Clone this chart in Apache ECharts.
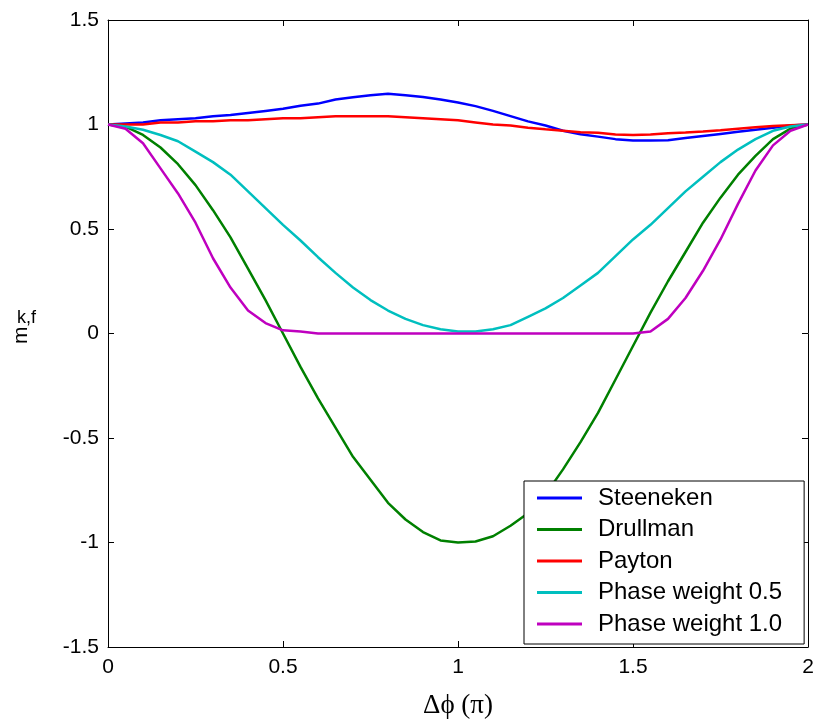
<!DOCTYPE html>
<html>
<head>
    <meta charset="utf-8" />
    <title>Modulation transfer vs phase difference</title>
    <script src="https://cdn.jsdelivr.net/npm/echarts@6/dist/echarts.min.js"></script>
    <style>
        html, body { margin: 0; padding: 0; background: #fff; }
        #main { width: 817px; height: 724px; }
    </style>
</head>
<body>
    <div id="main"></div>
    <script>
        // phase difference, in units of pi
        var dphi = [0, 0.05, 0.1, 0.15, 0.2, 0.25, 0.3, 0.35, 0.4, 0.45, 0.5, 0.55, 0.6, 0.65, 0.7, 0.75, 0.8, 0.85, 0.9, 0.95,
            1, 1.05, 1.1, 1.15, 1.2, 1.25, 1.3, 1.35, 1.4, 1.45, 1.5, 1.55, 1.6, 1.65, 1.7, 1.75, 1.8, 1.85, 1.9, 1.95, 2];

        var steeneken = [1, 1.005, 1.01, 1.02, 1.025, 1.03, 1.04, 1.045, 1.055, 1.065, 1.075, 1.09, 1.1, 1.12, 1.13, 1.14, 1.147, 1.14, 1.132, 1.12,
            1.105, 1.088, 1.065, 1.04, 1.015, 0.995, 0.97, 0.953, 0.942, 0.93, 0.923, 0.923, 0.925, 0.935, 0.945, 0.955, 0.965, 0.975, 0.985, 0.995, 1];

        var drullman = [1, 0.99, 0.95, 0.89, 0.81, 0.71, 0.59, 0.46, 0.31, 0.16, 0.0, -0.16, -0.31, -0.45, -0.59, -0.7, -0.81, -0.89, -0.95, -0.99,
            -1.0, -0.995, -0.97, -0.92, -0.86, -0.77, -0.65, -0.52, -0.38, -0.22, -0.06, 0.1, 0.25, 0.39, 0.53, 0.65, 0.76, 0.85, 0.93, 0.98, 1];

        var payton = [1, 1, 1, 1.01, 1.01, 1.015, 1.015, 1.02, 1.02, 1.025, 1.03, 1.03, 1.035, 1.04, 1.04, 1.04, 1.04, 1.035, 1.03, 1.025,
            1.02, 1.01, 1.0, 0.995, 0.985, 0.977, 0.97, 0.963, 0.96, 0.952, 0.95, 0.952, 0.958, 0.962, 0.967, 0.973, 0.98, 0.987, 0.993, 0.997, 1];

        var phase05 = [1, 0.99, 0.975, 0.95, 0.92, 0.87, 0.82, 0.76, 0.68, 0.6, 0.52, 0.445, 0.365, 0.29, 0.22, 0.16, 0.11, 0.07, 0.04, 0.02,
            0.01, 0.01, 0.02, 0.04, 0.08, 0.12, 0.17, 0.23, 0.29, 0.37, 0.45, 0.52, 0.6, 0.68, 0.75, 0.82, 0.88, 0.93, 0.97, 0.99, 1];

        var phase10 = [1, 0.98, 0.91, 0.79, 0.67, 0.53, 0.36, 0.22, 0.11, 0.05, 0.015, 0.01, 0, 0, 0, 0, 0, 0, 0, 0,
            0, 0, 0, 0, 0, 0, 0, 0, 0, 0, 0, 0.01, 0.07, 0.17, 0.3, 0.45, 0.62, 0.78, 0.9, 0.97, 1];

        var seriesNames = ['Steeneken', 'Drullman', 'Payton', 'Phase weight 0.5', 'Phase weight 1.0'];
        var seriesValues = [steeneken, drullman, payton, phase05, phase10];
        var seriesColors = ['#0000ff', '#008000', '#ff0000', '#00bfbf', '#bf00bf'];

        var xTicks = [0, 0.5, 1, 1.5, 2];
        var yTicks = [-1.5, -1, -0.5, 0, 0.5, 1, 1.5];

        function pairs(ys) {
            return dphi.map(function (x, i) { return [x, ys[i]]; });
        }

        var myChart = echarts.init(document.getElementById('main'));

        var tickFont = { fontFamily: 'Liberation Sans', fontSize: 21, color: '#000' };
        var black = { color: '#000', width: 1 };

        // plain box axes with inward ticks on all four sides
        function frameAxis(extra) {
            return Object.assign({
                type: 'value',
                axisLine: { show: true, onZero: false, lineStyle: black },
                axisTick: { show: true, inside: true, length: 6, lineStyle: black },
                splitLine: { show: false }
            }, extra);
        }

        myChart.setOption({
            animation: false,
            backgroundColor: '#fff',
            grid: { left: 108, right: 9, top: 20, bottom: 76 },
            xAxis: [
                frameAxis({
                    position: 'bottom',
                    min: xTicks[0],
                    max: xTicks[xTicks.length - 1],
                    interval: 0.5,
                    axisLabel: Object.assign({ margin: 10 }, tickFont),
                    name: 'Δϕ (π)',
                    nameLocation: 'middle',
                    nameGap: 45,
                    nameTextStyle: { fontFamily: 'Liberation Serif', fontSize: 27, color: '#000' }
                }),
                frameAxis({ position: 'top', min: 0, max: 2, interval: 0.5, axisLabel: { show: false } })
            ],
            yAxis: [
                frameAxis({
                    position: 'left',
                    min: yTicks[0],
                    max: yTicks[yTicks.length - 1],
                    interval: 0.5,
                    axisLabel: Object.assign({ margin: 9 }, tickFont)
                }),
                frameAxis({ position: 'right', min: -1.5, max: 1.5, interval: 0.5, axisLabel: { show: false } })
            ],
            legend: {
                orient: 'vertical',
                left: 524,
                top: 481,
                padding: [5, 22, 8, 13],
                itemGap: 7.5,
                itemWidth: 45,
                itemHeight: 3,
                icon: 'rect',
                backgroundColor: '#fff',
                borderColor: '#000',
                borderWidth: 1,
                borderRadius: 0,
                textStyle: { fontFamily: 'Liberation Sans', fontSize: 24, color: '#000', padding: [0, 0, 0, 11] },
                data: seriesNames
            },
            graphic: [{
                type: 'text',
                x: 11,
                y: 344,
                rotation: Math.PI / 2,
                style: { text: 'm', font: '21px "Liberation Sans"', fill: '#000' }
            }, {
                type: 'text',
                left: 17,
                top: 309,
                style: { text: 'k,f', font: '18px "Liberation Sans"', fill: '#000' }
            }],
            series: seriesNames.map(function (name, i) {
                return {
                    name: name,
                    type: 'line',
                    data: pairs(seriesValues[i]),
                    showSymbol: false,
                    symbol: 'none',
                    smooth: false,
                    lineStyle: { color: seriesColors[i], width: 2.5 },
                    itemStyle: { color: seriesColors[i] }
                };
            })
        });
    </script>
</body>
</html>
